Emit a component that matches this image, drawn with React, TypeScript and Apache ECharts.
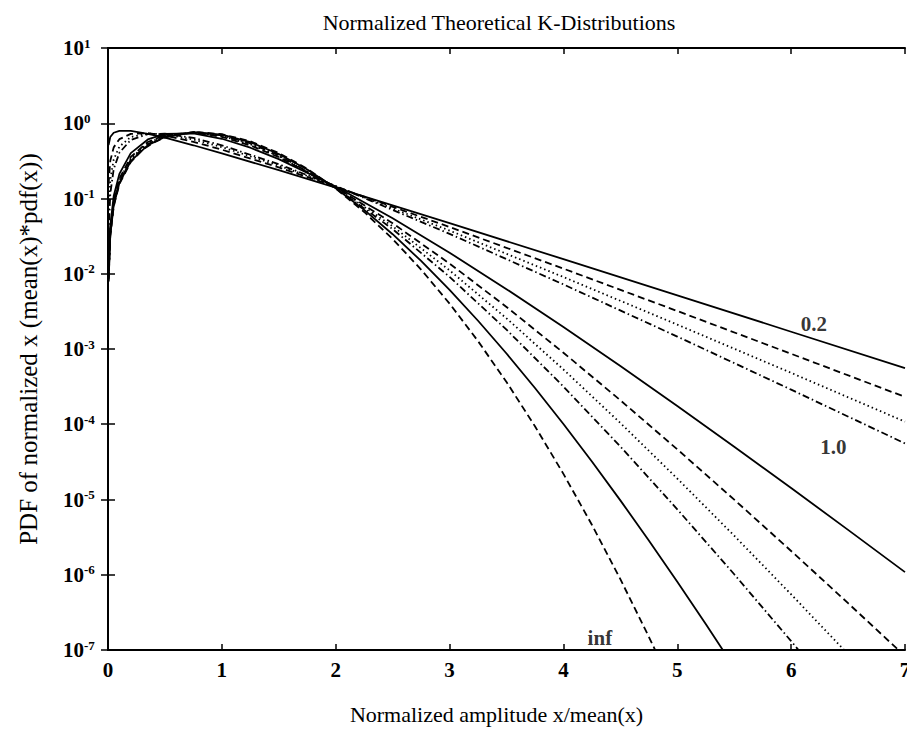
import React, { useEffect, useRef } from "react";
import * as echarts from "echarts";

// ---------- data ----------
const X_UPPER = [0.005, 0.02, 0.05, 0.1, 0.2, 0.35, 0.5, 0.75, 1, 1.5, 2, 3, 4, 5, 6, 7];
const Y_NU06 = [0.5137, 0.6565, 0.7477, 0.7942, 0.7909, 0.7243, 0.6419, 0.51, 0.3985, 0.2375, 0.1394, 0.04702, 0.01564, 0.005162, 0.001696, 0.0005556];
const Y_NU08 = [0.1551, 0.3167, 0.4778, 0.6145, 0.7223, 0.7367, 0.6877, 0.5669, 0.4459, 0.2587, 0.1437, 0.04182, 0.01169, 0.003198, 0.0008635, 0.000231];
const Y_NU10 = [0.06122, 0.1765, 0.3289, 0.4898, 0.6565, 0.7313, 0.7132, 0.6073, 0.4817, 0.2738, 0.1456, 0.03748, 0.009046, 0.002111, 0.0004816, 0.0001082];
const Y_NU12 = [0.03291, 0.1152, 0.2457, 0.4058, 0.6006, 0.7186, 0.7272, 0.6374, 0.5094, 0.2855, 0.1464, 0.03393, 0.007212, 0.001463, 0.0002882, 0.00005563];

const X_LOWER = [0.005, 0.02, 0.05, 0.1, 0.2, 0.35, 0.5, 0.75, 1, 1.25, 1.5, 2, 2.5, 3, 3.5, 4, 4.5, 5, 5.5, 6, 6.5, 7];
const Y_NU3 = [0.01084, 0.04334, 0.1079, 0.2124, 0.4008, 0.6096, 0.7213, 0.7337, 0.6221, 0.4729, 0.3341, 0.1441, 0.05464, 0.01904, 0.006245, 0.001959, 0.0005932, 0.0001747, 0.00005029, 0.00001421, 0.000003949, 0.000001083];
const Y_NU5 = [0.00934, 0.03734, 0.09311, 0.1845, 0.3556, 0.564, 0.6971, 0.7524, 0.6609, 0.5078, 0.3547, 0.1415, 0.04685, 0.01365, 0.003619, 0.000893, 0.0002083, 0.00004643, 0.000009958, 0.00000207, 0.0000004191, 0.0000000829];

const X_MID = [0.005, 0.02, 0.05, 0.1, 0.2, 0.35, 0.5, 0.75, 1, 1.25, 1.5, 2, 2.5, 3, 3.5, 4, 4.5, 5, 5.5, 6, 6.5];
const Y_NU7 = [0.00884, 0.03535, 0.08818, 0.175, 0.339, 0.5445, 0.6836, 0.7572, 0.6779, 0.5253, 0.3657, 0.14, 0.04273, 0.0111, 0.002554, 0.0005344, 0.0001039, 0.00001899, 0.000003299, 0.0000005487, 0.00000008797];
const Y_NU10B = [0.00851, 0.03403, 0.08491, 0.1686, 0.3277, 0.5304, 0.6725, 0.759, 0.6907, 0.5395, 0.3752, 0.1388, 0.03922, 0.009085, 0.001805, 0.0003173, 0.00005052, 0.000007407, 0.000001015, 0.0000001312, 0.00000001612];

const X_NU25 = [0.005, 0.02, 0.05, 0.1, 0.2, 0.35, 0.5, 0.75, 1, 1.25, 1.5, 1.75, 2, 2.25, 2.5, 2.75, 3, 3.25, 3.5, 3.75, 4, 4.25, 4.5, 4.75, 5, 5.25, 5.5];
const Y_NU25 = [0.0081, 0.03239, 0.08083, 0.1606, 0.3132, 0.5113, 0.6567, 0.7594, 0.7069, 0.5609, 0.3906, 0.243, 0.137, 0.07057, 0.03353, 0.0148, 0.006112, 0.002374, 0.0008705, 0.0003033, 0.0001006, 0.00003196, 0.00000974, 0.000002859, 0.0000008089, 0.0000002216, 0.00000005878];

const X_INF = [0.005, 0.02, 0.05, 0.1, 0.2, 0.3, 0.4, 0.5, 0.6, 0.8, 1, 1.25, 1.5, 1.75, 2, 2.25, 2.5, 2.75, 3, 3.25, 3.5, 3.75, 4, 4.25, 4.5, 4.75, 4.85];
const Y_INF = [0.007854, 0.03142, 0.0784, 0.1558, 0.3045, 0.4391, 0.5541, 0.6455, 0.7104, 0.76, 0.7161, 0.5755, 0.4023, 0.2488, 0.1358, 0.06628, 0.02897, 0.01135, 0.004014, 0.001271, 0.0003645, 0.000094, 0.00002191, 0.00000461, 0.000000874, 0.00000015, 0.000000072];

const CURVE_NAMES = ["0.6", "0.8", "1.0", "1.2", "3", "5", "7", "10", "25", "inf"];
const CURVE_X = [X_UPPER, X_UPPER, X_UPPER, X_UPPER, X_LOWER, X_LOWER, X_MID, X_MID, X_NU25, X_INF];
const CURVE_Y = [Y_NU06, Y_NU08, Y_NU10, Y_NU12, Y_NU3, Y_NU5, Y_NU7, Y_NU10B, Y_NU25, Y_INF];

const LABEL_TEXTS = ["0.2", "1.0", "inf"];
const LABEL_X = [6.2, 6.37, 4.32];
const LABEL_Y = [0.00215, 0.00005, 0.000000144];

const X_TICKS_MIN = 0;
const X_TICKS_MAX = 7;
const Y_MIN = 1e-7;
const Y_MAX = 10;

// ---------- styling ----------
const FONT = "Liberation Serif";
const DASH_TYPES: any[] = ["solid", [7, 4], [1.5, 3], [7, 3, 1.5, 3]];

export default function App() {
  const ref = useRef<HTMLDivElement>(null);

  useEffect(() => {
    if (!ref.current) return;
    const chart = echarts.init(ref.current, undefined, { renderer: "svg" });

    const series: any[] = CURVE_Y.map((ys, i) => ({
      type: "line",
      name: CURVE_NAMES[i],
      data: ys.map((y, j) => [CURVE_X[i][j], y]),
      showSymbol: false,
      symbol: "none",
      clip: true,
      silent: true,
      lineStyle: { color: "#000", width: 1.8, type: DASH_TYPES[i % 4], cap: "butt" },
      z: 3,
    }));

    series.push({
      type: "scatter",
      name: "labels",
      data: LABEL_X.map((x, i) => [x, LABEL_Y[i]]),
      symbolSize: 0,
      silent: true,
      label: {
        show: true,
        position: "inside",
        formatter: (p: any) => LABEL_TEXTS[p.dataIndex],
        fontFamily: FONT,
        fontSize: 21,
        fontWeight: "bold",
        color: "#000",
      },
      z: 5,
    });

    const tickLabelRich = {
      b: { fontFamily: FONT, fontSize: 21, fontWeight: "bold", color: "#000", lineHeight: 23 },
      s: { fontFamily: FONT, fontSize: 13, fontWeight: "bold", color: "#000", verticalAlign: "top", lineHeight: 14 },
    };

    chart.setOption({
      animation: false,
      backgroundColor: "#fff",
      title: {
        text: "Normalized Theoretical K-Distributions",
        left: 494,
        textAlign: "center",
        top: 6,
        textStyle: { fontFamily: FONT, fontSize: 22, fontWeight: "normal", color: "#000" },
      },
      grid: { left: 108, right: 2, top: 48, bottom: 85, containLabel: false, outerBoundsMode: "none" },
      xAxis: [
        {
          type: "value",
          min: X_TICKS_MIN,
          max: X_TICKS_MAX,
          interval: 1,
          position: "bottom",
          axisLine: { show: true, lineStyle: { color: "#000", width: 2 } },
          axisTick: { show: true, inside: true, length: 6, lineStyle: { color: "#000", width: 1.5 } },
          axisLabel: { margin: 9, fontFamily: FONT, fontSize: 21, fontWeight: "bold", color: "#000", hideOverlap: false },
          splitLine: { show: false },
          name: "Normalized amplitude x/mean(x)",
          nameLocation: "middle",
          nameGap: 53,
          nameTextStyle: { fontFamily: FONT, fontSize: 22, color: "#000", padding: [0, 20, 0, 0] },
        },
        {
          type: "value",
          min: X_TICKS_MIN,
          max: X_TICKS_MAX,
          interval: 1,
          position: "top",
          axisLine: { show: true, lineStyle: { color: "#000", width: 2 } },
          axisTick: { show: true, inside: true, length: 6, lineStyle: { color: "#000", width: 1.5 } },
          axisLabel: { show: false },
          splitLine: { show: false },
        },
      ],
      yAxis: [
        {
          type: "log",
          logBase: 10,
          min: Y_MIN,
          max: Y_MAX,
          splitNumber: 8,
          position: "left",
          axisLine: { show: true, lineStyle: { color: "#000", width: 2 } },
          axisTick: { show: true, inside: true, length: 7, lineStyle: { color: "#000", width: 1.5 } },
          axisLabel: {
            margin: 45,
            align: "left",
            formatter: (v: number) => "{b|10}{s|" + Math.round(Math.log10(v)) + "}",
            rich: tickLabelRich,
          },
          splitLine: { show: false },
          minorTick: { show: false },
          name: "PDF of normalized x (mean(x)*pdf(x))",
          nameLocation: "middle",
          nameGap: 67,
          nameRotate: 90,
          nameTextStyle: { fontFamily: FONT, fontSize: 25, color: "#000" },
        },
        {
          type: "log",
          logBase: 10,
          min: Y_MIN,
          max: Y_MAX,
          splitNumber: 8,
          position: "right",
          axisLine: { show: true, lineStyle: { color: "#000", width: 2 } },
          axisTick: { show: true, inside: true, length: 7, lineStyle: { color: "#000", width: 1.5 } },
          axisLabel: { show: false },
          splitLine: { show: false },
        },
      ],
      series,
    });

    return () => chart.dispose();
  }, []);

  return (
    <div
      ref={ref}
      style={{ position: "fixed", left: 0, top: 0, width: 907, height: 735, background: "#fff" }}
    />
  );
}
